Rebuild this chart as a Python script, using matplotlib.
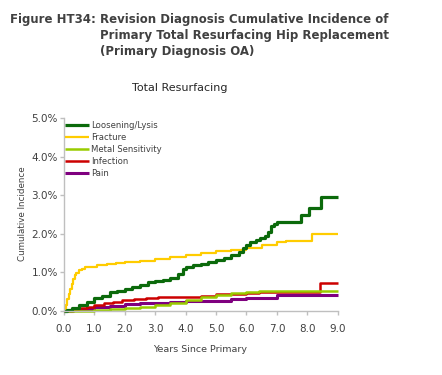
import matplotlib

matplotlib.use("Agg")
import matplotlib.pyplot as plt

# cumulative incidence (%) by years since primary
loosening_t = [0, 0.1, 0.25, 0.5, 0.75, 1.0, 1.25, 1.5, 1.75, 2.0, 2.25, 2.5, 2.75, 3.0, 3.25, 3.5,
               3.75, 3.9, 4.0, 4.25, 4.5, 4.75, 5.0, 5.25, 5.5, 5.75, 5.9, 6.0, 6.1, 6.3, 6.45, 6.6,
               6.7, 6.8, 6.9, 7.0, 7.8, 8.05, 8.45, 9.0]
loosening_v = [0, 0.03, 0.08, 0.15, 0.23, 0.33, 0.40, 0.48, 0.53, 0.57, 0.62, 0.68, 0.74, 0.78, 0.80,
               0.86, 0.96, 1.10, 1.13, 1.18, 1.22, 1.28, 1.32, 1.38, 1.44, 1.52, 1.62, 1.70, 1.78, 1.84,
               1.90, 1.95, 2.05, 2.20, 2.26, 2.30, 2.50, 2.66, 2.95, 2.95]

fracture_t = [0, 0.05, 0.1, 0.15, 0.2, 0.25, 0.3, 0.35, 0.4, 0.5, 0.6, 0.7, 0.9, 1.1, 1.4, 1.7, 2.0,
              2.5, 3.0, 3.5, 4.0, 4.5, 5.0, 5.5, 6.0, 6.5, 7.0, 7.3, 8.15, 9.0]
fracture_v = [0, 0.15, 0.30, 0.45, 0.58, 0.70, 0.82, 0.92, 0.98, 1.05, 1.10, 1.13, 1.15, 1.18, 1.21,
              1.24, 1.27, 1.30, 1.34, 1.40, 1.45, 1.50, 1.55, 1.58, 1.63, 1.72, 1.78, 1.82, 2.0, 2.0]

metal_t = [0, 0.5, 1.0, 1.5, 2.0, 2.5, 3.0, 3.5, 4.0, 4.5, 5.0, 5.5, 6.0, 6.4, 9.0]
metal_v = [0, 0.01, 0.03, 0.05, 0.08, 0.11, 0.15, 0.22, 0.29, 0.35, 0.41, 0.46, 0.49, 0.52, 0.52]

infection_t = [0, 0.25, 0.5, 0.75, 1.0, 1.3, 1.6, 1.9, 2.3, 2.7, 3.1, 3.5, 4.0, 4.5, 5.0, 5.5, 6.0,
               6.4, 7.2, 8.42, 9.0]
infection_v = [0, 0.03, 0.07, 0.11, 0.16, 0.20, 0.24, 0.28, 0.30, 0.33, 0.35, 0.36, 0.37, 0.40, 0.43,
               0.45, 0.46, 0.48, 0.49, 0.72, 0.72]

pain_t = [0, 0.3, 0.6, 1.0, 1.5, 2.0, 2.5, 3.0, 3.5, 4.0, 4.5, 5.0, 5.5, 6.0, 7.0, 9.0]
pain_v = [0, 0.03, 0.06, 0.10, 0.14, 0.18, 0.20, 0.22, 0.24, 0.25, 0.26, 0.27, 0.30, 0.33, 0.42, 0.42]

x_ticks = [0, 1, 2, 3, 4, 5, 6, 7, 8, 9]
y_ticks = [0, 1, 2, 3, 4, 5]

series = [
    ("Loosening/Lysis", loosening_t, loosening_v, "#0b6a0b", 2.3),
    ("Fracture", fracture_t, fracture_v, "#ffcc00", 1.6),
    ("Metal Sensitivity", metal_t, metal_v, "#99cc00", 1.8),
    ("Infection", infection_t, infection_v, "#cc0000", 1.8),
    ("Pain", pain_t, pain_v, "#7f007f", 2.2),
]

text_color = "#404040"
axis_color = "#bfbfbf"

fig = plt.figure(figsize=(4.42, 3.75), dpi=100)
ax = fig.add_axes([64 / 442, 64 / 375, 273.7 / 442, 193 / 375])

# draw in reverse so loosening sits on top
for label, t, v, color, lw in reversed(series):
    ax.plot(t, v, drawstyle="steps-post", color=color, linewidth=lw, label=label,
            solid_capstyle="butt", clip_on=False)

ax.set_xlim(0, 9)
ax.set_ylim(0, 5)
ax.set_xticks(x_ticks)
ax.set_xticklabels([f"{x:.1f}" for x in x_ticks])
ax.set_yticks(y_ticks)
ax.set_yticklabels([f"{y:.1f}%" for y in y_ticks])
for side in ("top", "right"):
    ax.spines[side].set_visible(False)
for side in ("left", "bottom"):
    ax.spines[side].set_color(axis_color)
    ax.spines[side].set_linewidth(1.0)
ax.tick_params(colors=axis_color, labelcolor=text_color, labelsize=7.5, length=3, width=1)
ax.tick_params(axis="x", pad=6)
ax.tick_params(axis="y", pad=1.5)
ax.set_xlabel("Years Since Primary", fontsize=6.8, color=text_color, va="center")
ax.set_ylabel("Cumulative Incidence", fontsize=6.3, color=text_color, va="center")
ax.xaxis.set_label_coords(0.497, -0.197)
ax.yaxis.set_label_coords(-0.15, 0.503)

handles, labels = ax.get_legend_handles_labels()
leg = ax.legend(handles[::-1], labels[::-1], loc="upper left", bbox_to_anchor=(65 / 442, 1 - 121 / 375),
                bbox_transform=fig.transFigure, frameon=False, fontsize=6.1, handlelength=2.8,
                handletextpad=0.3, labelspacing=0.35, borderpad=0, borderaxespad=0)
for text in leg.get_texts():
    text.set_color(text_color)

fig.text(180 / 442, 1 - 88 / 375, "Total Resurfacing", fontsize=8, color="#262626",
         ha="center", va="center")

title_kw = dict(fontsize=8.5, fontweight="bold", color=text_color, va="center")
fig.text(10 / 442, 1 - 20 / 375, "Figure HT34:", **title_kw)
fig.text(100 / 442, 1 - 20 / 375, "Revision Diagnosis Cumulative Incidence of", **title_kw)
fig.text(100 / 442, 1 - 36 / 375, "Primary Total Resurfacing Hip Replacement", **title_kw)
fig.text(100 / 442, 1 - 52 / 375, "(Primary Diagnosis OA)", **title_kw)

fig.savefig("out.png", dpi=100)
plt.close(fig)
